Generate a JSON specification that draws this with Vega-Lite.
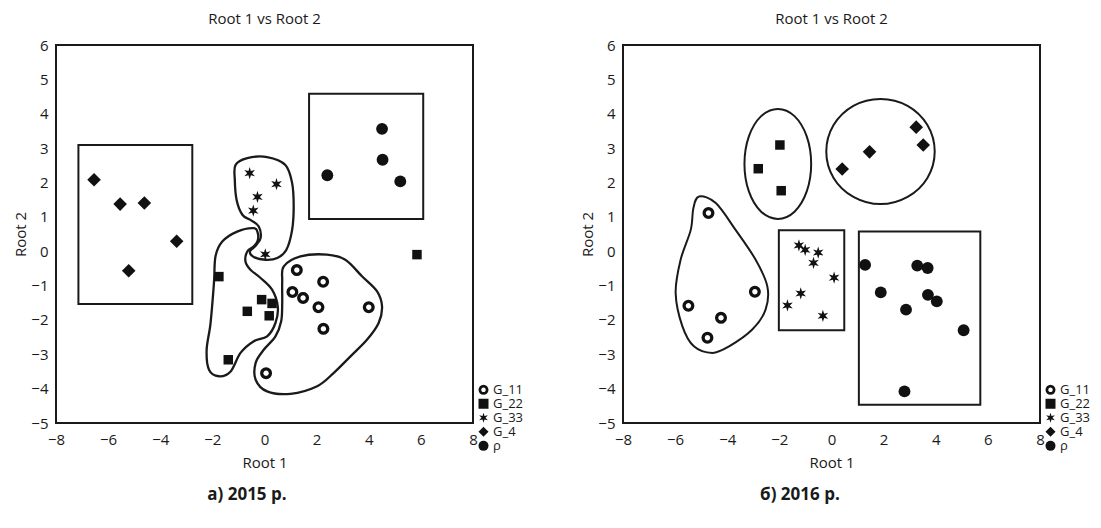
{
  "$schema": "https://vega.github.io/schema/vega-lite/v6.json",
  "padding": {"left": 12, "top": 11, "right": 5, "bottom": 5},
  "background": "white",
  "config": {
    "font": "Open Sans",
    "view": {"stroke": "#1a1a1a", "strokeWidth": 2},
    "axis": {"domain": false, "ticks": false, "grid": false, "labelFontSize": 15, "titleFontSize": 15, "titleFontWeight": "normal", "labelColor": "#1a1a1a", "titleColor": "#1a1a1a", "labelOverlap": false, "labelFlush": false},
    "axisX": {"titlePadding": 8, "labelPadding": 9},
    "axisY": {"titlePadding": 2, "labelPadding": 8},
    "legend": {"labelFontSize": 13, "labelColor": "#1a1a1a", "rowPadding": 0, "clipHeight": 11.7, "labelOffset": 3, "symbolSize": 100, "padding": 0},
    "title": {"fontSize": 15, "fontWeight": "normal", "color": "#1a1a1a"}
  },
  "datasets": {
    "pts2015": [
      {"g": "G_11", "x": 1.24, "y": -0.55}, {"g": "G_11", "x": 2.25, "y": -0.89}, {"g": "G_11", "x": 1.07, "y": -1.19}, {"g": "G_11", "x": 1.48, "y": -1.36},
      {"g": "G_11", "x": 2.07, "y": -1.63}, {"g": "G_11", "x": 4.0, "y": -1.63}, {"g": "G_11", "x": 2.26, "y": -2.26}, {"g": "G_11", "x": 0.06, "y": -3.55},
      {"g": "G_22", "x": -1.75, "y": -0.74}, {"g": "G_22", "x": -0.11, "y": -1.41}, {"g": "G_22", "x": 0.29, "y": -1.52}, {"g": "G_22", "x": -0.66, "y": -1.75},
      {"g": "G_22", "x": 0.18, "y": -1.88}, {"g": "G_22", "x": -1.39, "y": -3.16}, {"g": "G_22", "x": 5.85, "y": -0.1},
      {"g": "G_33", "x": -0.57, "y": 2.27}, {"g": "G_33", "x": 0.46, "y": 1.95}, {"g": "G_33", "x": -0.27, "y": 1.58}, {"g": "G_33", "x": -0.43, "y": 1.18}, {"g": "G_33", "x": 0.03, "y": -0.09},
      {"g": "G_4", "x": -6.54, "y": 2.08}, {"g": "G_4", "x": -5.54, "y": 1.37}, {"g": "G_4", "x": -4.61, "y": 1.4}, {"g": "G_4", "x": -3.37, "y": 0.29}, {"g": "G_4", "x": -5.21, "y": -0.57},
      {"g": "ρ", "x": 4.51, "y": 3.56}, {"g": "ρ", "x": 4.53, "y": 2.66}, {"g": "ρ", "x": 2.41, "y": 2.21}, {"g": "ρ", "x": 5.21, "y": 2.03}
    ],
    "pts2016": [
      {"g": "G_11", "x": -4.72, "y": 1.11}, {"g": "G_11", "x": -2.94, "y": -1.18}, {"g": "G_11", "x": -5.49, "y": -1.59}, {"g": "G_11", "x": -4.24, "y": -1.94}, {"g": "G_11", "x": -4.76, "y": -2.52},
      {"g": "G_22", "x": -1.98, "y": 3.09}, {"g": "G_22", "x": -2.81, "y": 2.4}, {"g": "G_22", "x": -1.93, "y": 1.76},
      {"g": "G_33", "x": -1.25, "y": 0.17}, {"g": "G_33", "x": -1.01, "y": 0.04}, {"g": "G_33", "x": -0.51, "y": -0.04}, {"g": "G_33", "x": -0.69, "y": -0.34},
      {"g": "G_33", "x": 0.1, "y": -0.77}, {"g": "G_33", "x": -1.18, "y": -1.23}, {"g": "G_33", "x": -1.69, "y": -1.58}, {"g": "G_33", "x": -0.33, "y": -1.88},
      {"g": "G_4", "x": 3.25, "y": 3.61}, {"g": "G_4", "x": 3.52, "y": 3.09}, {"g": "G_4", "x": 1.46, "y": 2.89}, {"g": "G_4", "x": 0.41, "y": 2.39},
      {"g": "ρ", "x": 1.29, "y": -0.4}, {"g": "ρ", "x": 3.29, "y": -0.42}, {"g": "ρ", "x": 3.69, "y": -0.49}, {"g": "ρ", "x": 1.89, "y": -1.2},
      {"g": "ρ", "x": 3.7, "y": -1.27}, {"g": "ρ", "x": 4.04, "y": -1.46}, {"g": "ρ", "x": 2.86, "y": -1.7}, {"g": "ρ", "x": 5.07, "y": -2.3}, {"g": "ρ", "x": 2.8, "y": -4.08}
    ],
    "rects2015": [
      {"x1": -7.14, "x2": -2.77, "y1": 3.09, "y2": -1.54},
      {"x1": 1.71, "x2": 6.09, "y1": 4.58, "y2": 0.94}
    ],
    "rects2016": [
      {"x1": -2.02, "x2": 0.49, "y1": 0.61, "y2": -2.3},
      {"x1": 1.05, "x2": 5.71, "y1": 0.57, "y2": -4.47}
    ],
    "out2015": [
      {"id": "s", "i": 0, "x": -1.11, "y": 2.51}, {"id": "s", "i": 1, "x": -0.66, "y": 2.71}, {"id": "s", "i": 2, "x": 0.1, "y": 2.74}, {"id": "s", "i": 3, "x": 0.8, "y": 2.51},
      {"id": "s", "i": 4, "x": 1.06, "y": 1.98}, {"id": "s", "i": 5, "x": 1.12, "y": 1.3}, {"id": "s", "i": 6, "x": 1.06, "y": 0.62}, {"id": "s", "i": 7, "x": 0.84, "y": 0.04},
      {"id": "s", "i": 8, "x": 0.49, "y": -0.2}, {"id": "s", "i": 9, "x": 0.04, "y": -0.25}, {"id": "s", "i": 10, "x": -0.41, "y": -0.17}, {"id": "s", "i": 11, "x": -0.56, "y": -0.01},
      {"id": "s", "i": 12, "x": -0.34, "y": 0.16}, {"id": "s", "i": 13, "x": -0.15, "y": 0.38}, {"id": "s", "i": 14, "x": -0.22, "y": 0.72}, {"id": "s", "i": 15, "x": -0.54, "y": 0.91},
      {"id": "s", "i": 16, "x": -0.85, "y": 1.06}, {"id": "s", "i": 17, "x": -1.07, "y": 1.49}, {"id": "s", "i": 18, "x": -1.14, "y": 2.08},
      {"id": "q", "i": 0, "x": -0.41, "y": 0.67}, {"id": "q", "i": 1, "x": -1.05, "y": 0.57}, {"id": "q", "i": 2, "x": -1.62, "y": 0.28}, {"id": "q", "i": 3, "x": -1.88, "y": -0.15},
      {"id": "q", "i": 4, "x": -1.94, "y": -0.93}, {"id": "q", "i": 5, "x": -2.07, "y": -2.09}, {"id": "q", "i": 6, "x": -2.22, "y": -2.87}, {"id": "q", "i": 7, "x": -2.13, "y": -3.45},
      {"id": "q", "i": 8, "x": -1.75, "y": -3.64}, {"id": "q", "i": 9, "x": -1.3, "y": -3.5}, {"id": "q", "i": 10, "x": -0.92, "y": -2.96}, {"id": "q", "i": 11, "x": -0.41, "y": -2.62},
      {"id": "q", "i": 12, "x": 0.1, "y": -2.48}, {"id": "q", "i": 13, "x": 0.42, "y": -2.09}, {"id": "q", "i": 14, "x": 0.51, "y": -1.61}, {"id": "q", "i": 15, "x": 0.29, "y": -1.12},
      {"id": "q", "i": 16, "x": -0.15, "y": -0.78}, {"id": "q", "i": 17, "x": -0.54, "y": -0.54}, {"id": "q", "i": 18, "x": -0.73, "y": -0.3}, {"id": "q", "i": 19, "x": -0.66, "y": -0.01},
      {"id": "q", "i": 20, "x": -0.41, "y": 0.14}, {"id": "q", "i": 21, "x": -0.26, "y": 0.31}, {"id": "q", "i": 22, "x": -0.26, "y": 0.53},
      {"id": "c", "i": 0, "x": 0.74, "y": -0.44}, {"id": "c", "i": 1, "x": 1.38, "y": -0.15}, {"id": "c", "i": 2, "x": 2.4, "y": -0.1}, {"id": "c", "i": 3, "x": 3.1, "y": -0.25},
      {"id": "c", "i": 4, "x": 3.74, "y": -0.73}, {"id": "c", "i": 5, "x": 4.32, "y": -1.17}, {"id": "c", "i": 6, "x": 4.51, "y": -1.61}, {"id": "c", "i": 7, "x": 4.38, "y": -2.09},
      {"id": "c", "i": 8, "x": 3.93, "y": -2.58}, {"id": "c", "i": 9, "x": 3.3, "y": -3.06}, {"id": "c", "i": 10, "x": 2.66, "y": -3.54}, {"id": "c", "i": 11, "x": 2.02, "y": -3.93},
      {"id": "c", "i": 12, "x": 1.0, "y": -4.15}, {"id": "c", "i": 13, "x": 0.1, "y": -4.08}, {"id": "c", "i": 14, "x": -0.34, "y": -3.74}, {"id": "c", "i": 15, "x": -0.34, "y": -3.25},
      {"id": "c", "i": 16, "x": -0.03, "y": -2.87}, {"id": "c", "i": 17, "x": 0.42, "y": -2.48}, {"id": "c", "i": 18, "x": 0.64, "y": -2.04}, {"id": "c", "i": 19, "x": 0.68, "y": -1.51},
      {"id": "c", "i": 20, "x": 0.68, "y": -0.88}
    ],
    "out2016": [
      {"id": "p", "i": 0, "x": -5.08, "y": 1.59}, {"id": "p", "i": 1, "x": -4.44, "y": 1.4}, {"id": "p", "i": 2, "x": -3.68, "y": 0.62}, {"id": "p", "i": 3, "x": -2.91, "y": -0.25},
      {"id": "p", "i": 4, "x": -2.46, "y": -1.03}, {"id": "p", "i": 5, "x": -2.53, "y": -1.7}, {"id": "p", "i": 6, "x": -3.04, "y": -2.28}, {"id": "p", "i": 7, "x": -3.93, "y": -2.77},
      {"id": "p", "i": 8, "x": -4.57, "y": -2.96}, {"id": "p", "i": 9, "x": -5.28, "y": -2.77}, {"id": "p", "i": 10, "x": -5.72, "y": -2.19}, {"id": "p", "i": 11, "x": -5.98, "y": -1.22},
      {"id": "p", "i": 12, "x": -5.79, "y": -0.25}, {"id": "p", "i": 13, "x": -5.4, "y": 0.62}, {"id": "p", "i": 14, "x": -5.3, "y": 1.25},
      {"id": "e1", "i": 0, "x": -0.78, "y": 2.54}, {"id": "e1", "i": 1, "x": -0.95, "y": 3.34}, {"id": "e1", "i": 2, "x": -1.42, "y": 3.93}, {"id": "e1", "i": 3, "x": -2.06, "y": 4.14},
      {"id": "e1", "i": 4, "x": -2.7, "y": 3.93}, {"id": "e1", "i": 5, "x": -3.17, "y": 3.34}, {"id": "e1", "i": 6, "x": -3.34, "y": 2.54}, {"id": "e1", "i": 7, "x": -3.17, "y": 1.74},
      {"id": "e1", "i": 8, "x": -2.7, "y": 1.15}, {"id": "e1", "i": 9, "x": -2.06, "y": 0.94}, {"id": "e1", "i": 10, "x": -1.42, "y": 1.15}, {"id": "e1", "i": 11, "x": -0.95, "y": 1.74},
      {"id": "e2", "i": 0, "x": 3.96, "y": 2.9}, {"id": "e2", "i": 1, "x": 3.68, "y": 3.67}, {"id": "e2", "i": 2, "x": 2.92, "y": 4.23}, {"id": "e2", "i": 3, "x": 1.88, "y": 4.43},
      {"id": "e2", "i": 4, "x": 0.84, "y": 4.23}, {"id": "e2", "i": 5, "x": 0.08, "y": 3.67}, {"id": "e2", "i": 6, "x": -0.2, "y": 2.9}, {"id": "e2", "i": 7, "x": 0.08, "y": 2.13},
      {"id": "e2", "i": 8, "x": 0.84, "y": 1.58}, {"id": "e2", "i": 9, "x": 1.88, "y": 1.37}, {"id": "e2", "i": 10, "x": 2.92, "y": 1.58}, {"id": "e2", "i": 11, "x": 3.68, "y": 2.13}
    ]
  },
  "hconcat": [
    {
      "title": {"text": "а) 2015 р.", "orient": "bottom", "anchor": "middle", "fontWeight": "bold", "fontSize": 17, "offset": 16, "dx": -22},
      "resolve": {"scale": {"shape": "independent"}, "legend": {"shape": "independent"}},
      "vconcat": [
        {
          "title": {"text": "Root 1 vs Root 2", "frame": "group", "offset": 11},
          "width": 417,
          "height": 378,
          "layer": [
            {
              "data": {"name": "rects2015"},
              "mark": {"type": "rect", "filled": false, "stroke": "#1a1a1a", "strokeWidth": 2},
              "encoding": {
                "x": {"field": "x1", "type": "quantitative", "scale": {"domain": [-8, 8], "nice": false}, "axis": {"values": [-8, -6, -4, -2, 0, 2, 4, 6, 8], "labelOverlap": false}, "title": "Root 1"},
                "x2": {"field": "x2"},
                "y": {"field": "y1", "type": "quantitative", "scale": {"domain": [-5, 6], "nice": false}, "axis": {"values": [-5, -4, -3, -2, -1, 0, 1, 2, 3, 4, 5, 6], "labelOverlap": false}, "title": "Root 2"},
                "y2": {"field": "y2"}
              }
            },
            {
              "data": {"name": "out2015"},
              "mark": {"type": "line", "interpolate": "cardinal-closed", "stroke": "#1a1a1a", "strokeWidth": 2.3},
              "encoding": {
                "x": {"field": "x", "type": "quantitative", "axis": {"values": [-8, -6, -4, -2, 0, 2, 4, 6, 8], "labelOverlap": false}, "title": "Root 1"},
                "y": {"field": "y", "type": "quantitative", "axis": {"values": [-5, -4, -3, -2, -1, 0, 1, 2, 3, 4, 5, 6], "labelOverlap": false}, "title": "Root 2"},
                "detail": {"field": "id"},
                "order": {"field": "i", "type": "quantitative"}
              }
            },
            {
              "data": {"name": "pts2015"},
              "mark": {"type": "point", "filled": true, "color": "#111111", "opacity": 1, "strokeWidth": 0},
              "encoding": {
                "x": {"field": "x", "type": "quantitative", "axis": {"values": [-8, -6, -4, -2, 0, 2, 4, 6, 8], "labelOverlap": false}, "title": "Root 1"},
                "y": {"field": "y", "type": "quantitative", "axis": {"values": [-5, -4, -3, -2, -1, 0, 1, 2, 3, 4, 5, 6], "labelOverlap": false}, "title": "Root 2"},
                "shape": {"field": "g", "type": "nominal", "scale": {"domain": ["G_11", "G_22", "G_33", "G_4", "ρ"], "range": ["M1,0L0.924,0.383L0.707,0.707L0.383,0.924L0,1L-0.383,0.924L-0.707,0.707L-0.924,0.383L-1,0L-0.924,-0.383L-0.707,-0.707L-0.383,-0.924L0,-1L0.383,-0.924L0.707,-0.707L0.924,-0.383ZM0.45,0L0.416,-0.172L0.318,-0.318L0.172,-0.416L0,-0.45L-0.172,-0.416L-0.318,-0.318L-0.416,-0.172L-0.45,0L-0.416,0.172L-0.318,0.318L-0.172,0.416L0,0.45L0.172,0.416L0.318,0.318L0.416,0.172Z", "square", "M0,-1L0.2,-0.346L0.866,-0.5L0.4,0L0.866,0.5L0.2,0.346L0,1L-0.2,0.346L-0.866,0.5L-0.4,0L-0.866,-0.5L-0.2,-0.346Z", "diamond", "circle"]}, "legend": {"title": null, "orient": "none", "legendX": 421, "legendY": 339}},
                "size": {"condition": [{"test": "datum.g === 'G_11'", "value": 144}, {"test": "datum.g === 'G_22'", "value": 90}, {"test": "datum.g === 'G_33'", "value": 150}, {"test": "datum.g === 'G_4'", "value": 185}], "value": 140}
              }
            }
          ]
        }
      ]
    },
    {
      "title": {"text": "б) 2016 р.", "orient": "bottom", "anchor": "middle", "fontWeight": "bold", "fontSize": 17, "offset": 16, "dx": -36},
      "resolve": {"scale": {"shape": "independent"}, "legend": {"shape": "independent"}},
      "vconcat": [
        {
          "title": {"text": "Root 1 vs Root 2", "frame": "group", "offset": 11},
          "width": 417,
          "height": 378,
          "layer": [
            {
              "data": {"name": "rects2016"},
              "mark": {"type": "rect", "filled": false, "stroke": "#1a1a1a", "strokeWidth": 2},
              "encoding": {
                "x": {"field": "x1", "type": "quantitative", "scale": {"domain": [-8, 8], "nice": false}, "axis": {"values": [-8, -6, -4, -2, 0, 2, 4, 6, 8], "labelOverlap": false}, "title": "Root 1"},
                "x2": {"field": "x2"},
                "y": {"field": "y1", "type": "quantitative", "scale": {"domain": [-5, 6], "nice": false}, "axis": {"values": [-5, -4, -3, -2, -1, 0, 1, 2, 3, 4, 5, 6], "labelOverlap": false}, "title": "Root 2"},
                "y2": {"field": "y2"}
              }
            },
            {
              "data": {"name": "out2016"},
              "mark": {"type": "line", "interpolate": "cardinal-closed", "stroke": "#1a1a1a", "strokeWidth": 2},
              "encoding": {
                "x": {"field": "x", "type": "quantitative", "axis": {"values": [-8, -6, -4, -2, 0, 2, 4, 6, 8], "labelOverlap": false}, "title": "Root 1"},
                "y": {"field": "y", "type": "quantitative", "axis": {"values": [-5, -4, -3, -2, -1, 0, 1, 2, 3, 4, 5, 6], "labelOverlap": false}, "title": "Root 2"},
                "detail": {"field": "id"},
                "order": {"field": "i", "type": "quantitative"}
              }
            },
            {
              "data": {"name": "pts2016"},
              "mark": {"type": "point", "filled": true, "color": "#111111", "opacity": 1, "strokeWidth": 0},
              "encoding": {
                "x": {"field": "x", "type": "quantitative", "axis": {"values": [-8, -6, -4, -2, 0, 2, 4, 6, 8], "labelOverlap": false}, "title": "Root 1"},
                "y": {"field": "y", "type": "quantitative", "axis": {"values": [-5, -4, -3, -2, -1, 0, 1, 2, 3, 4, 5, 6], "labelOverlap": false}, "title": "Root 2"},
                "shape": {"field": "g", "type": "nominal", "scale": {"domain": ["G_11", "G_22", "G_33", "G_4", "ρ"], "range": ["M1,0L0.924,0.383L0.707,0.707L0.383,0.924L0,1L-0.383,0.924L-0.707,0.707L-0.924,0.383L-1,0L-0.924,-0.383L-0.707,-0.707L-0.383,-0.924L0,-1L0.383,-0.924L0.707,-0.707L0.924,-0.383ZM0.45,0L0.416,-0.172L0.318,-0.318L0.172,-0.416L0,-0.45L-0.172,-0.416L-0.318,-0.318L-0.416,-0.172L-0.45,0L-0.416,0.172L-0.318,0.318L-0.172,0.416L0,0.45L0.172,0.416L0.318,0.318L0.416,0.172Z", "square", "M0,-1L0.2,-0.346L0.866,-0.5L0.4,0L0.866,0.5L0.2,0.346L0,1L-0.2,0.346L-0.866,0.5L-0.4,0L-0.866,-0.5L-0.2,-0.346Z", "diamond", "circle"]}, "legend": {"title": null, "orient": "none", "legendX": 421, "legendY": 339}},
                "size": {"condition": [{"test": "datum.g === 'G_11'", "value": 144}, {"test": "datum.g === 'G_22'", "value": 90}, {"test": "datum.g === 'G_33'", "value": 150}, {"test": "datum.g === 'G_4'", "value": 185}], "value": 140}
              }
            }
          ]
        }
      ]
    }
  ],
  "spacing": 54,
  "resolve": {"scale": {"shape": "independent"}, "legend": {"shape": "independent"}}
}
